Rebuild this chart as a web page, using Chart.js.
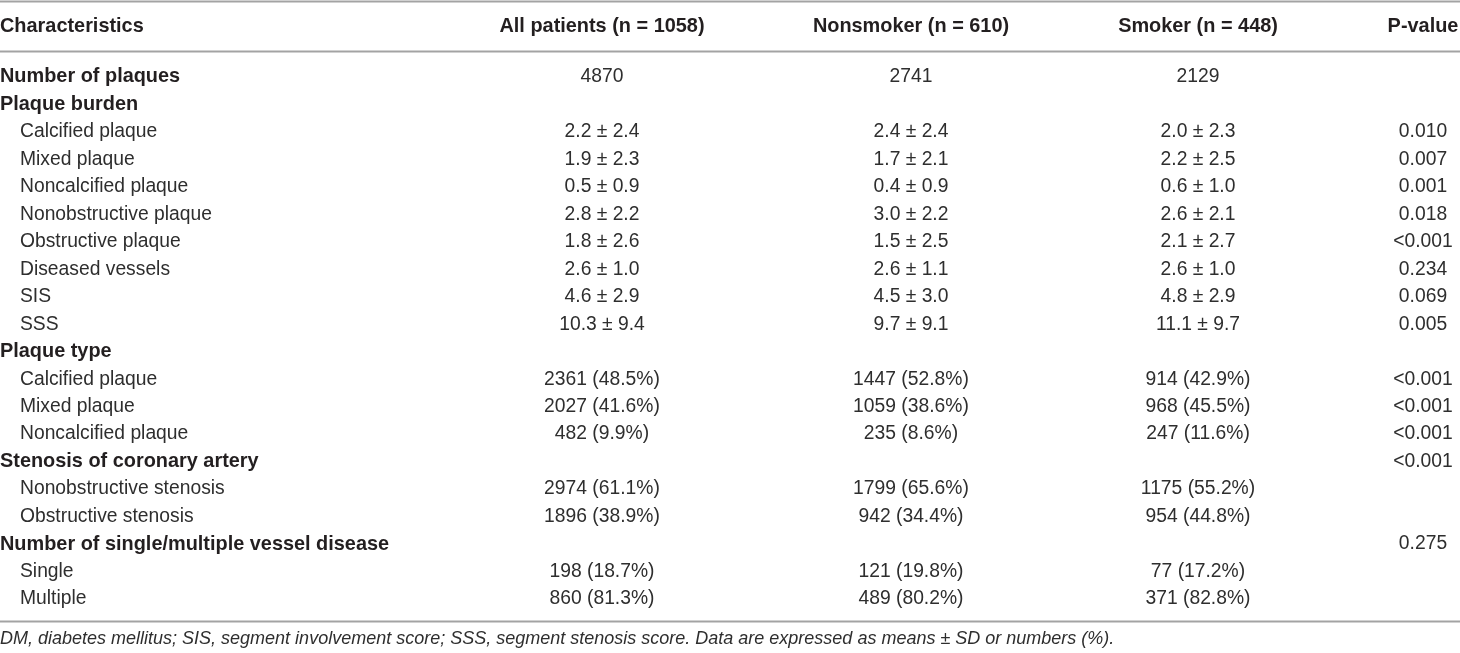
<!DOCTYPE html>
<html>
<head>
<meta charset="utf-8">
<script src="https://cdn.jsdelivr.net/npm/chart.js@4.4.1/dist/chart.umd.min.js"></script>
<style>
  html, body { margin: 0; padding: 0; background: #fff; overflow: hidden; }
  #wrap { position: relative; width: 1460px; height: 653px; }
</style>
</head>
<body>
<div id="wrap"><canvas id="tbl"></canvas></div>
<script>
// ── TABLE DATA ─────────────────────────────────────────────────────────
const columnHeaders = ['Characteristics', 'All patients (n = 1058)', 'Nonsmoker (n = 610)', 'Smoker (n = 448)', 'P-value'];

const rowLabels = [
  'Number of plaques',
  'Plaque burden',
  'Calcified plaque', 'Mixed plaque', 'Noncalcified plaque', 'Nonobstructive plaque',
  'Obstructive plaque', 'Diseased vessels', 'SIS', 'SSS',
  'Plaque type',
  'Calcified plaque', 'Mixed plaque', 'Noncalcified plaque',
  'Stenosis of coronary artery',
  'Nonobstructive stenosis', 'Obstructive stenosis',
  'Number of single/multiple vessel disease',
  'Single', 'Multiple'
];

// bold section headings (not indented)
const groupRows = ['Number of plaques', 'Plaque burden', 'Plaque type', 'Stenosis of coronary artery', 'Number of single/multiple vessel disease'];

const allPatients = ['4870', '', '2.2 ± 2.4', '1.9 ± 2.3', '0.5 ± 0.9', '2.8 ± 2.2', '1.8 ± 2.6', '2.6 ± 1.0', '4.6 ± 2.9', '10.3 ± 9.4',
  '', '2361 (48.5%)', '2027 (41.6%)', '482 (9.9%)', '', '2974 (61.1%)', '1896 (38.9%)', '', '198 (18.7%)', '860 (81.3%)'];
const nonsmoker   = ['2741', '', '2.4 ± 2.4', '1.7 ± 2.1', '0.4 ± 0.9', '3.0 ± 2.2', '1.5 ± 2.5', '2.6 ± 1.1', '4.5 ± 3.0', '9.7 ± 9.1',
  '', '1447 (52.8%)', '1059 (38.6%)', '235 (8.6%)', '', '1799 (65.6%)', '942 (34.4%)', '', '121 (19.8%)', '489 (80.2%)'];
const smoker      = ['2129', '', '2.0 ± 2.3', '2.2 ± 2.5', '0.6 ± 1.0', '2.6 ± 2.1', '2.1 ± 2.7', '2.6 ± 1.0', '4.8 ± 2.9', '11.1 ± 9.7',
  '', '914 (42.9%)', '968 (45.5%)', '247 (11.6%)', '', '1175 (55.2%)', '954 (44.8%)', '', '77 (17.2%)', '371 (82.8%)'];
const pValues     = ['', '', '0.010', '0.007', '0.001', '0.018', '<0.001', '0.234', '0.069', '0.005',
  '', '<0.001', '<0.001', '<0.001', '<0.001', '', '', '0.275', '', ''];

const footnote = 'DM, diabetes mellitus; SIS, segment involvement score; SSS, segment stenosis score. Data are expressed as means ± SD or numbers (%).';

// ── LAYOUT ─────────────────────────────────────────────────────────────
const COL_X = [0, 602, 911, 1198, 1423];   // anchor of each column on the x scale
const INDENT = 20;
const FONT = '"Liberation Sans", Arial, Helvetica, sans-serif';
const REG = `19.3px ${FONT}`;
const BOLD = `bold 19.9px ${FONT}`;
const NOTE = `italic 18px ${FONT}`;
const INK = '#231f20';
const INK_LIGHT = '#2e2e2e';
const RULE = '#a3a3a3';

function cells(values, col, align) {
  return {
    label: columnHeaders[col],
    align,
    data: values.map((t, i) => ({ x: COL_X[col], y: i, text: t })),
    pointRadius: 0
  };
}

const labelSet = {
  label: columnHeaders[0],
  align: 'left',
  data: rowLabels.map((t, i) => {
    const bold = groupRows.includes(t);
    return { x: COL_X[0] + (bold ? 0 : INDENT), y: i, text: t, bold };
  }),
  pointRadius: 0
};

// ── TEXT PLUGIN ────────────────────────────────────────────────────────
const tablePlugin = {
  id: 'tableText',
  afterDatasetsDraw(chart) {
    const { ctx, scales: { x, y } } = chart;
    const w = chart.width;
    ctx.save();
    ctx.textBaseline = 'middle';

    chart.data.datasets.forEach((ds, di) => {
      const meta = chart.getDatasetMeta(di);
      ctx.textAlign = ds.align;
      meta.data.forEach((pt, i) => {
        const raw = ds.data[i];
        if (!raw.text) return;
        ctx.font = raw.bold ? BOLD : REG;
        ctx.fillStyle = raw.bold ? INK : INK_LIGHT;
        ctx.fillText(raw.text, pt.x, pt.y);
      });
    });

    // header row
    const first = y.getPixelForValue(0);
    const last = y.getPixelForValue(rowLabels.length - 1);
    const headY = first - 50;
    ctx.font = BOLD;
    ctx.fillStyle = INK;
    columnHeaders.forEach((h, c) => {
      ctx.textAlign = c === 0 ? 'left' : 'center';
      ctx.fillText(h, x.getPixelForValue(COL_X[c]), headY);
    });

    // rules
    ctx.strokeStyle = RULE;
    const rule = (yy, lw) => { ctx.lineWidth = lw; ctx.beginPath(); ctx.moveTo(0, yy); ctx.lineTo(w, yy); ctx.stroke(); };
    rule(1.5, 2);
    rule(first - 25.5, 2);
    rule(last + 22.5, 2);

    // footnote
    ctx.font = NOTE;
    ctx.fillStyle = INK_LIGHT;
    ctx.textAlign = 'left';
    ctx.fillText(footnote, 0, last + 40);
    ctx.restore();
  }
};

new Chart(document.getElementById('tbl'), {
  type: 'scatter',
  data: {
    datasets: [
      labelSet,
      cells(allPatients, 1, 'center'),
      cells(nonsmoker, 2, 'center'),
      cells(smoker, 3, 'center'),
      cells(pValues, 4, 'center')
    ]
  },
  options: {
    responsive: true, maintainAspectRatio: false, animation: false, events: [],
    layout: { padding: { top: 77, bottom: 54, left: 0, right: 0 } },
    plugins: { legend: { display: false }, tooltip: { enabled: false } },
    scales: {
      x: { type: 'linear', min: 0, max: 1460, display: false },
      y: { type: 'category', labels: rowLabels, offset: false, display: false }
    }
  },
  plugins: [tablePlugin]
});
</script>
</body>
</html>
